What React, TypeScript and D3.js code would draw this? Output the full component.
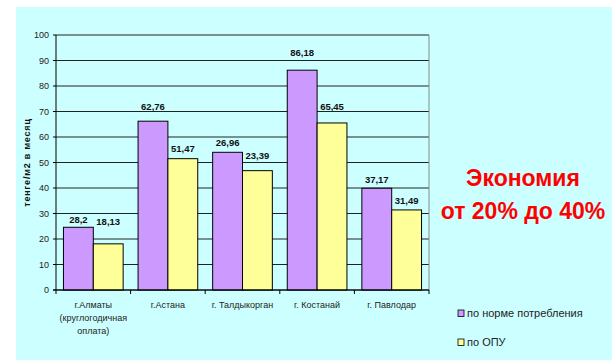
import React from "react";
import * as d3 from "d3";

const categories = [
  ["г.Алматы", "(круглогодичная", "оплата)"],
  ["г.Астана"],
  ["г. Талдыкорган"],
  ["г. Костанай"],
  ["г. Павлодар"],
];
const seriesNames = ["по норме потребления", "по ОПУ"];
const normValues = [24.6, 66.2, 54.0, 86.2, 39.9];
const opuValues = [18.1, 51.5, 46.8, 65.5, 31.4];
const normLabels = ["28,2", "62,76", "26,96", "86,18", "37,17"];
const opuLabels = ["18,13", "51,47", "23,39", "65,45", "31,49"];
const normLabelAnchors = [26.3, 70.6, 56.5, 91.8, 42.1];
const opuLabelAnchors = [25.5, 54.2, 51.3, 70.6, 33.7];
const yTicks = [0, 10, 20, 30, 40, 50, 60, 70, 80, 90, 100];
const yTitle = "тенге/м2 в месяц";
const noteLines = ["Экономия", "от 20% до 40%"];

const colors = ["#cc99ff", "#ffff99"];

export default function App() {
  const W = 612, H = 360;
  const left = 56, right = 429, top = 35, bottom = 290;
  const y = d3.scaleLinear().domain([0, 100]).range([bottom, top]);
  const idx = categories.map((_, i) => String(i));
  const x = d3.scaleBand().domain(idx).range([left, right]).paddingInner(0).paddingOuter(0);
  const x1 = d3.scaleBand().domain(["0", "1"]).range([0, x.bandwidth()]).paddingInner(0).paddingOuter(0.25);
  const series = [
    { values: normValues, labels: normLabels, anchors: normLabelAnchors },
    { values: opuValues, labels: opuLabels, anchors: opuLabelAnchors },
  ];
  const font = "Liberation Sans, Arial, sans-serif";
  return (
    <svg width={W} height={H} style={{ position: "absolute", left: 0, top: 0 }} fontFamily={font}>
      <rect x={16} y={7} width={W - 16} height={H - 7} fill="#ccffff" />
      {yTicks.map((t) => (
        <g key={t}>
          <line x1={left} x2={right} y1={y(t)} y2={y(t)} stroke="#222" strokeWidth={1} />
          <line x1={left - 3} x2={left} y1={y(t)} y2={y(t)} stroke="#000" />
          <text x={49} y={y(t)} dy="0.35em" textAnchor="end" fontSize={9} fill="#222">{t}</text>
        </g>
      ))}
      <line x1={right} x2={right} y1={top} y2={bottom} stroke="#888" />
      {series.map((s, si) =>
        s.values.map((v, i) => {
          const bx = (x(String(i)) as number) + (x1(String(si)) as number);
          const bw = x1.bandwidth();
          return (
            <g key={si + "-" + i}>
              <rect x={bx} y={y(v)} width={bw} height={y(0) - y(v)} fill={colors[si]} stroke="#000" strokeWidth={1} />
              <text x={bx + bw / 2} y={y(s.anchors[i])} textAnchor="middle" fontSize={9.5} fontWeight="bold" fill="#111">{s.labels[i]}</text>
            </g>
          );
        })
      )}
      <line x1={left} x2={left} y1={top} y2={bottom + 4} stroke="#000" />
      <line x1={left - 3} x2={right} y1={bottom} y2={bottom} stroke="#000" />
      {idx.map((d) => (
        <line key={"t" + d} x1={x(d)! + x.bandwidth()} x2={x(d)! + x.bandwidth()} y1={bottom} y2={bottom + 4} stroke="#000" />
      ))}
      {categories.map((lines, i) => (
        <text key={"c" + i} x={x(String(i))! + x.bandwidth() / 2} y={305} textAnchor="middle" fontSize={9} fill="#222">
          {lines.map((l, j) => (
            <tspan key={j} x={x(String(i))! + x.bandwidth() / 2} y={305 + j * 13} dy="0.35em">{l}</tspan>
          ))}
        </text>
      ))}
      <text transform={`translate(27,${(top + bottom) / 2}) rotate(-90)`} textAnchor="middle" dy="0.35em" fontSize={9} fontWeight="bold" letterSpacing={0.8} fill="#111">{yTitle}</text>
      {seriesNames.map((n, i) => (
        <g key={n}>
          <rect x={458} y={310 + i * 29} width={6} height={6.5} fill={colors[i]} stroke="#000" strokeWidth={0.8} />
          <text x={467} y={313.5 + i * 29} dy="0.35em" fontSize={11} fill="#222">{n}</text>
        </g>
      ))}
      {noteLines.map((l, i) => (
        <text key={l} x={523} y={186 + i * 32.5} textAnchor="middle" fontSize={23} fontWeight="bold" fill="#ff0000">{l}</text>
      ))}
    </svg>
  );
}
